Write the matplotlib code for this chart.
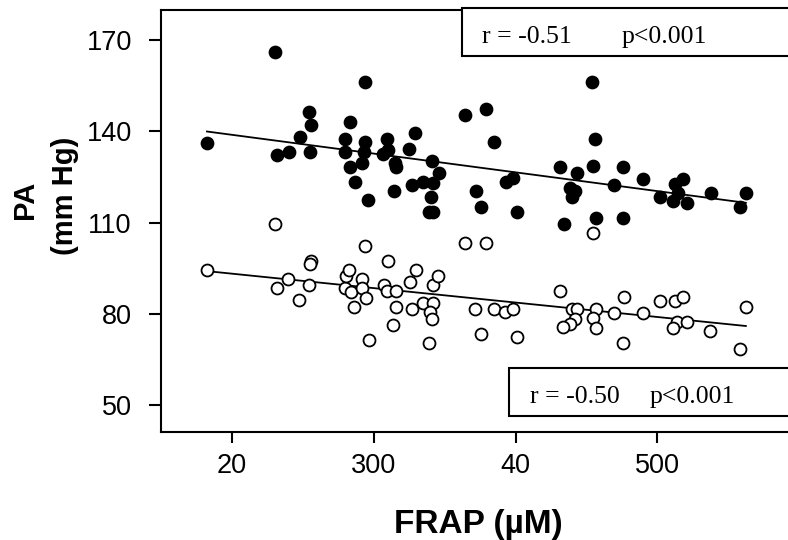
import numpy as np
import matplotlib
matplotlib.use("Agg")
import matplotlib.pyplot as plt
from matplotlib.patches import Rectangle

# FRAP (uM) vs PA (mm Hg), upper group = filled dots, lower group = open dots
frap_filled = [182.4, 230.5, 232, 240, 248, 254, 256, 255, 280, 280, 283, 283, 287, 292,
               294, 294, 293, 296, 309, 306.5, 310, 314, 315, 316, 325, 329, 327, 335,
               341, 342, 346, 340, 339, 342, 364, 379, 385, 372, 375.5, 401, 393, 398,
               431.5, 443, 438, 440, 442, 434, 454, 456, 454.4, 456.5, 476, 469.4, 476,
               490, 502, 512.4, 518.3, 514.7, 511, 520.6, 537.6, 562.3, 558]
pa_filled = [136.2, 166.2, 132.2, 133.3, 138.2, 146.2, 142, 133.3, 137.4, 133.3, 143.1,
             128.4, 123.2, 129.5, 156.1, 136.4, 133.3, 117.4, 137.4, 132.5, 134, 120.5,
             129.5, 128.2, 134.2, 139.3, 122.3, 123.4, 130.2, 123.1, 126.4, 118.3, 113.4,
             113.4, 145.3, 147.3, 136.4, 120.5, 115.2, 113.4, 123.4, 124.5, 128.4, 126.4,
             121.2, 118.3, 120.5, 109.5, 156.3, 137.4, 128.6, 111.4, 128.4, 122.3, 111.4,
             124.3, 118.3, 122.6, 124.3, 119.6, 117.1, 116.3, 119.6, 119.6, 115.2]

frap_open = [182.4, 230.5, 232, 239.6, 247.5, 254, 255.9, 254.7, 279.8, 280.5, 282.2, 284,
             286.4, 292, 291.6, 294.4, 296.3, 294, 307.4, 309.4, 309.8, 313.6, 315.6, 315.6,
             325.2, 329.7, 326.8, 334.6, 341.4, 345.6, 342, 339.5, 340.7, 339, 364.4, 379,
             371.5, 375.5, 384.8, 392.6, 398, 400.8, 431.3, 439.6, 443.5, 441.6, 438.3,
             433.7, 454.4, 456.5, 454.8, 456.5, 469.4, 476.5, 476, 490, 501.8, 512.4, 518.3,
             514, 511.2, 520.6, 537, 558.2, 562.3]
pa_open = [94.4, 109.4, 88.4, 91.4, 84.4, 89.5, 97.4, 96.3, 88.4, 92.5, 94.4, 87.3, 82.3,
           91.3, 88.4, 85.3, 71.4, 102.4, 89.6, 87.4, 97.4, 76.4, 82.3, 87.4, 90.5, 94.4,
           81.4, 83.4, 89.5, 92.5, 83.4, 80.5, 78.3, 70.5, 103.4, 103.4, 81.4, 73.3, 81.4,
           80.5, 81.4, 72.5, 87.5, 81.4, 81.4, 78.2, 76.6, 75.5, 106.4, 81.4, 78.5, 75.4,
           80.4, 85.4, 70.5, 80.4, 84.3, 84.3, 85.4, 77.4, 75.4, 77.4, 74.4, 68.4, 82.3]

x_ticks = [200, 300, 400, 500]
x_tick_labels = ["20", "300", "40", "500"]
y_ticks = [50, 80, 110, 140, 170]

stats_filled = ("r = -0.51", "p<0.001")
stats_open = ("r = -0.50", "p<0.001")

W, H = 788, 540
fig = plt.figure(figsize=(W / 100, H / 100), dpi=100)
ax = fig.add_axes([161 / W, 1 - 432 / H, (W - 161) / W, (432 - 10) / H])


def fit_line(x, y):
    # least squares line drawn over the range of the data
    x = np.asarray(x)
    k, b = np.polyfit(x, np.asarray(y), 1)
    xs = np.array([x.min(), x.max()])
    return xs, k * xs + b


for xs, ys, face in [(frap_filled, pa_filled, "black"), (frap_open, pa_open, "white")]:
    lx, ly = fit_line(xs, ys)
    ax.plot(lx, ly, color="black", lw=1.3, zorder=2)
    ax.plot(xs, ys, "o", ms=8.6, mfc=face, mec="black", mew=1.3, zorder=3)

ax.set_xlim(150, 592)
ax.set_ylim(41.1, 179.9)
ax.set_xticks(x_ticks)
ax.set_xticklabels(x_tick_labels)
ax.set_yticks(y_ticks)

for side in ["left", "bottom", "top"]:
    ax.spines[side].set_linewidth(1.5)
ax.spines["right"].set_visible(False)
ax.tick_params(axis="y", length=9, width=1.5, pad=12, labelsize=19.5)
ax.tick_params(axis="x", length=8, width=1.5, pad=7, labelsize=19.5)
for lab in ax.get_xticklabels() + ax.get_yticklabels():
    lab.set_family("Liberation Sans")

fig.text(478 / W, 1 - 533 / H, "FRAP (\u00b5M)", ha="center", va="baseline",
         fontsize=24, fontweight="bold", family="Liberation Sans")
fig.text(25 / W, 1 - 200 / H, "PA", rotation=90, ha="center", va="center",
         fontsize=21, fontweight="bold", family="Liberation Sans")
fig.text(65 / W, 1 - 196 / H, "(mm Hg)", rotation=90, ha="center", va="center",
         fontsize=21, fontweight="bold", family="Liberation Sans")

# stats boxes, both run off the right edge like in the original
boxes = [(462, 8, 56, stats_filled, 482, 622, 43), (509, 368, 416, stats_open, 530, 650, 403)]
for left, top, bottom, (r_txt, p_txt), rx, px, base in boxes:
    rect = Rectangle((left / W, 1 - bottom / H), 2.0, (bottom - top) / H,
                     transform=fig.transFigure, facecolor="white", edgecolor="black",
                     lw=1.5, zorder=5, clip_on=False)
    fig.add_artist(rect)
    fig.text(rx / W, 1 - base / H, r_txt, ha="left", va="baseline", fontsize=18.5,
             family="Liberation Serif", zorder=6)
    fig.text(px / W, 1 - base / H, p_txt, ha="left", va="baseline", fontsize=18.5,
             family="Liberation Serif", zorder=6)

fig.savefig("out.png", dpi=100)
